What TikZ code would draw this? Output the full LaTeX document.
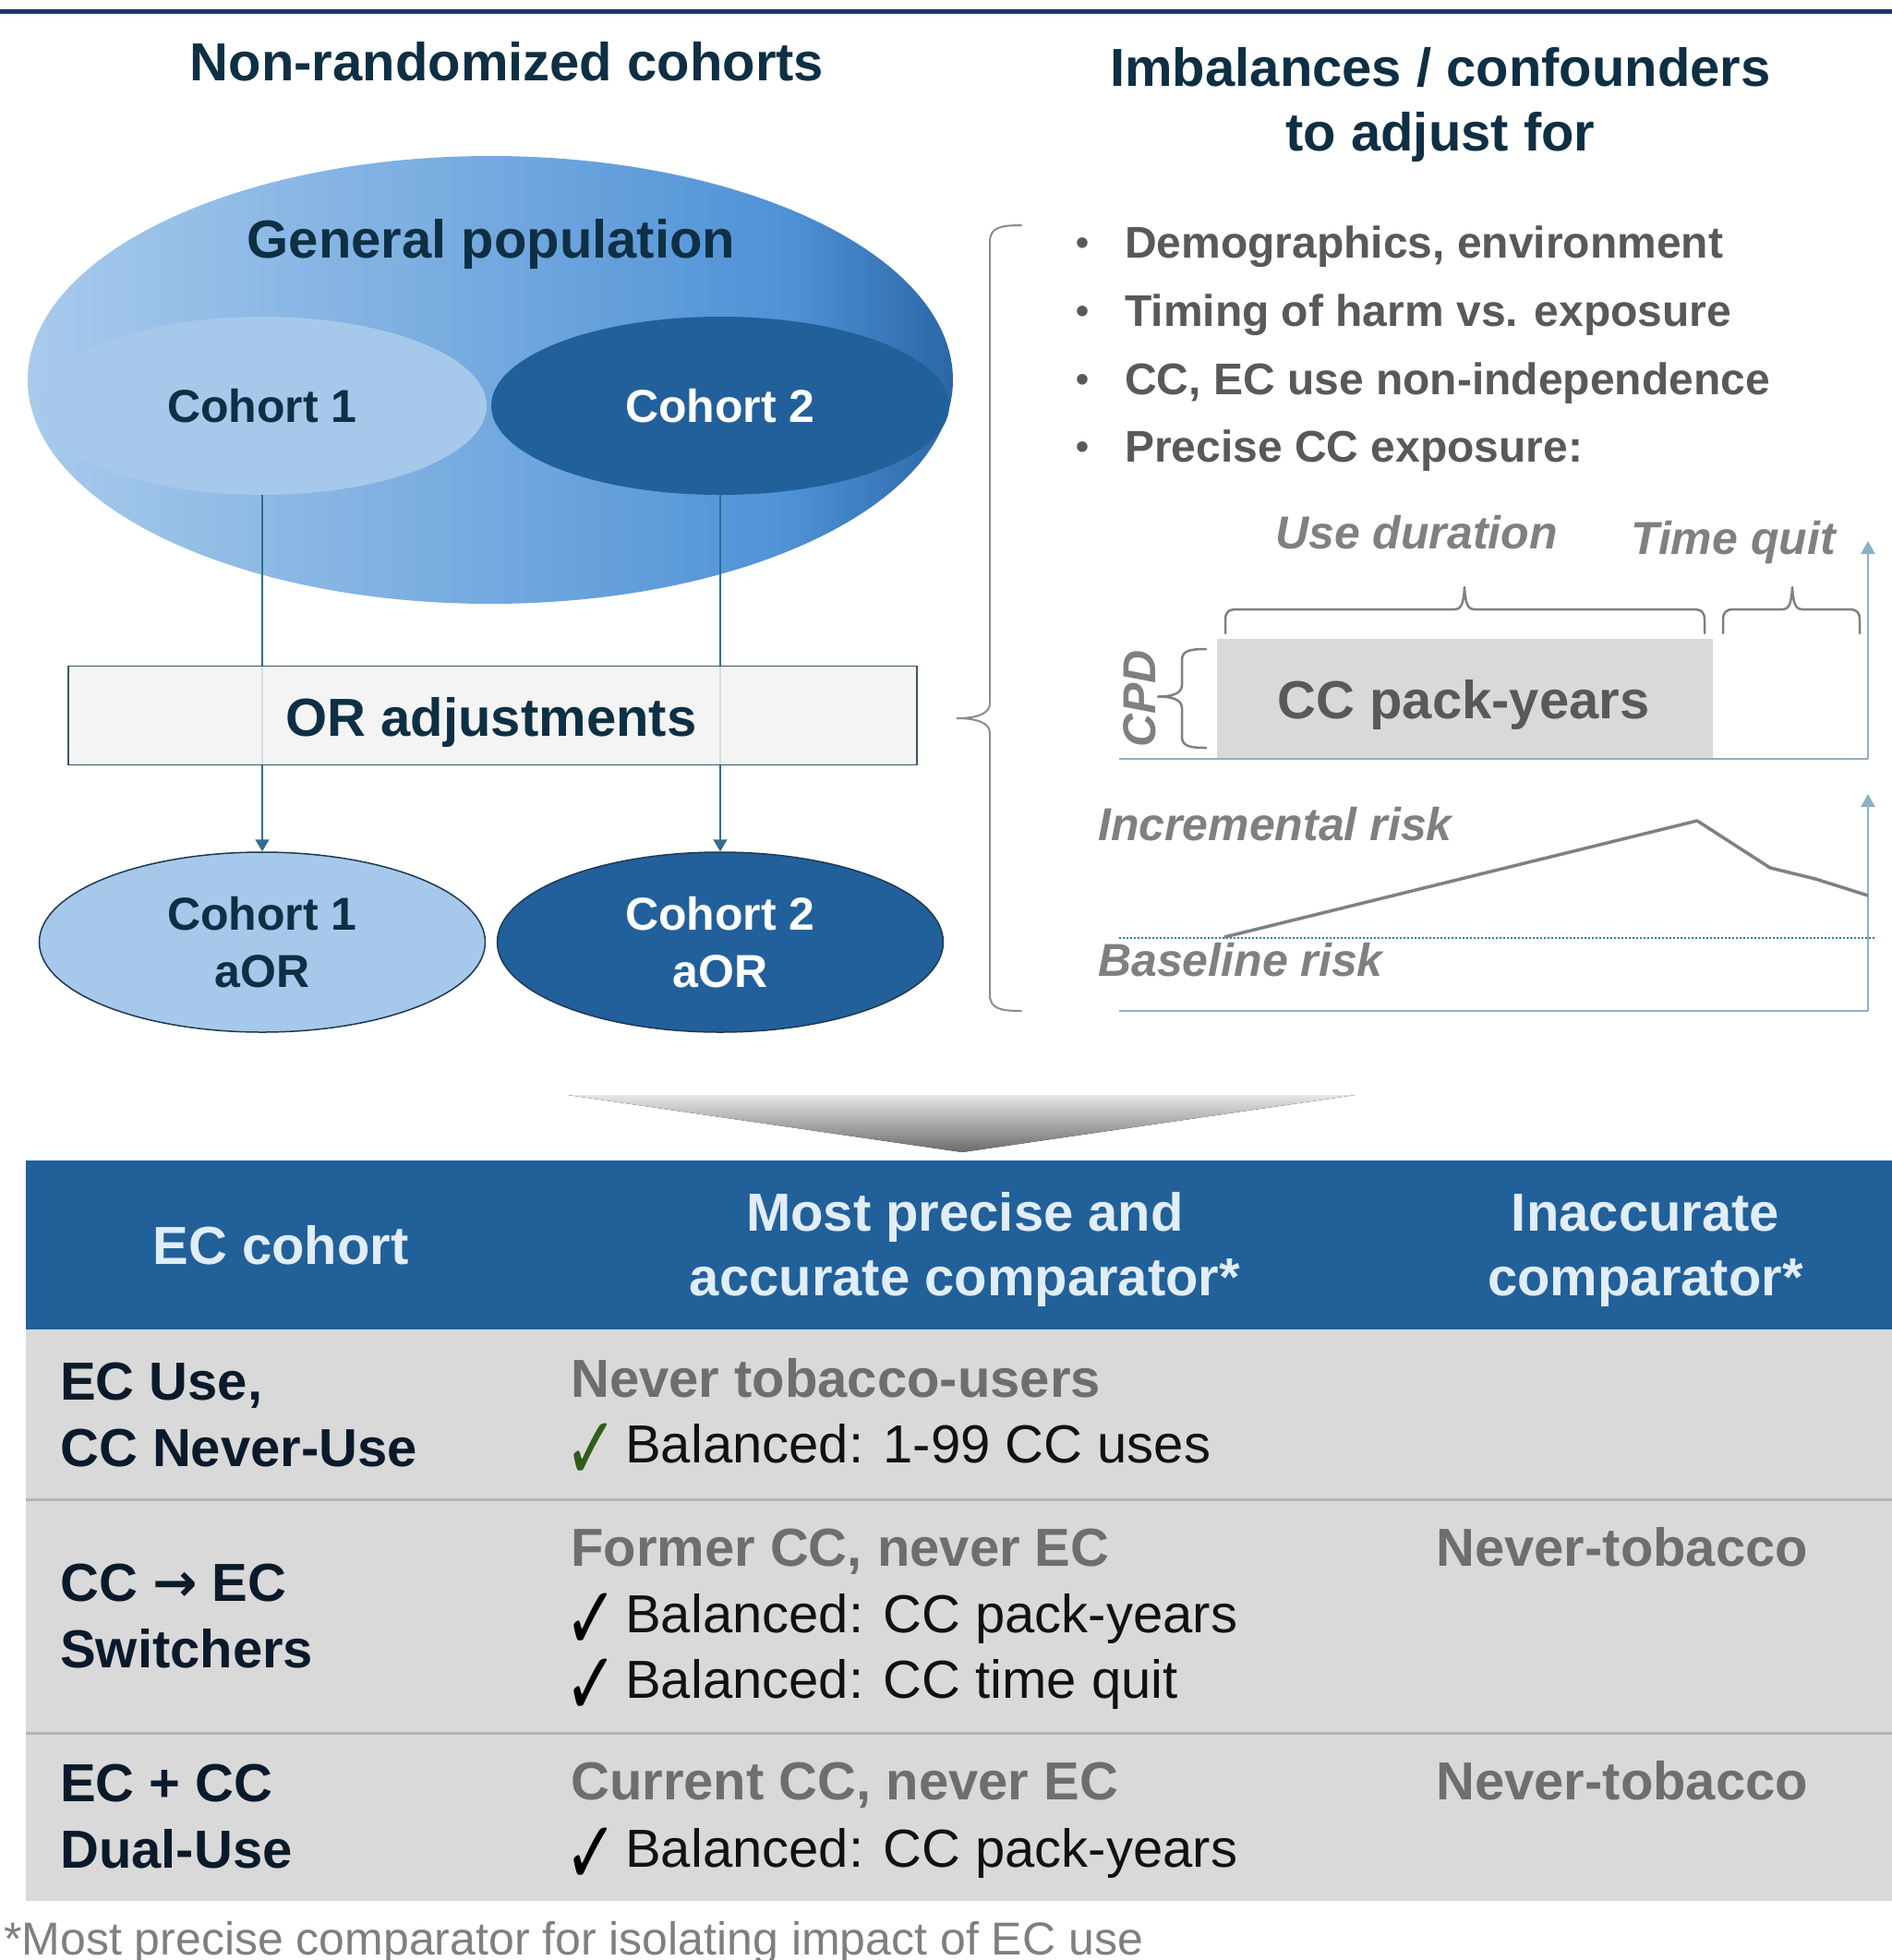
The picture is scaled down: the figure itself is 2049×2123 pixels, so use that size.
\documentclass[tikz,border=0pt]{standalone}
\usepackage{fontspec}
\setmainfont{Liberation Sans}
\newfontfamily\symf{DejaVu Sans}
\usetikzlibrary{shapes.geometric,arrows.meta}
\definecolor{topC}{HTML}{203864}
\definecolor{navyT}{HTML}{0E2F44}
\definecolor{grayT}{HTML}{595959}
\definecolor{grayL}{HTML}{808080}
\definecolor{gpA}{HTML}{A8CAEC}
\definecolor{gpB}{HTML}{78ACE0}
\definecolor{gpC}{HTML}{4F92D7}
\definecolor{gpD}{HTML}{2C66A6}
\definecolor{c1C}{HTML}{A6C8EA}
\definecolor{c2C}{HTML}{22609B}
\definecolor{connC}{HTML}{2F6E8E}
\definecolor{orB}{HTML}{3A566B}
\definecolor{orF}{HTML}{F2F2F2}
\definecolor{elB}{HTML}{1E3A52}
\definecolor{braceC}{HTML}{8C8C8C}
\definecolor{axisC}{HTML}{8DB0C2}
\definecolor{dotC}{HTML}{3C7CA8}
\definecolor{rectC}{HTML}{D9D9D9}
\definecolor{hdrC}{HTML}{22609A}
\definecolor{hdrT}{HTML}{E1EDF8}
\definecolor{rowC}{HTML}{D9D9D9}
\definecolor{sepC}{HTML}{B5B5B5}
\definecolor{col1T}{HTML}{0B1A2B}
\definecolor{col2T}{HTML}{6E6E6E}
\definecolor{balT}{HTML}{111111}
\definecolor{chkG}{HTML}{2E5E1A}
\definecolor{footT}{HTML}{7F7F7F}
\pgfdeclarehorizontalshading{gpshade}{100bp}{color(0bp)=(gpA); color(25bp)=(gpA); color(48bp)=(gpB); color(66bp)=(gpC); color(75bp)=(gpD); color(100bp)=(gpD)}
\newcommand\fsA{\fontsize{58}{70}\selectfont}
\newcommand\fsB{\fontsize{48}{58}\selectfont}
\newcommand\fsC{\fontsize{50}{60}\selectfont}
\newcommand\fsD{\fontsize{50}{62}\selectfont}
\newcommand\fsE{\fontsize{40}{46}\selectfont}
\newcommand\fsK{\fontsize{96}{100}\selectfont}
\newcommand\chkmark{\scalebox{0.72}[1]{✓}}
\begin{document}
\begin{tikzpicture}[x=1pt,y=-1pt,
  ttl/.style={font=\fsA\bfseries, text=navyT, inner sep=0pt},
  blt/.style={font=\fsB\bfseries, text=grayT, inner sep=0pt, anchor=base west},
  bdot/.style={font=\fsE\bfseries, text=grayT, inner sep=0pt, anchor=base},
  ital/.style={font=\fsC\bfseries\itshape, text=grayL, inner sep=0pt},
  conn/.style={draw=connC, line width=2pt, -{Triangle[width=15pt,length=13pt]}},
  axisln/.style={draw=axisC, line width=2.2pt},
  axarr/.style={draw=axisC, line width=2.2pt, -{Triangle[width=15pt,length=14pt]}},
  tbrc/.style={draw=grayL, line width=2.5pt, line cap=round, line join=round},
  bigbrc/.style={draw=braceC, line width=2pt, line cap=round},
  hdrtxt/.style={font=\fsA\bfseries, text=hdrT, inner sep=0pt, anchor=base},
  colA/.style={font=\fsA\bfseries, text=col1T, inner sep=0pt, anchor=base west},
  colB/.style={font=\fsA\bfseries, text=col2T, inner sep=0pt, anchor=base west},
  balx/.style={font=\fsA, text=balT, inner sep=0pt, anchor=base west},
  chk/.style={font=\fsK\symf, inner sep=0pt, anchor=base, text height=44pt, text depth=0pt},
  rowbox/.style={fill=rowC, minimum width=2021pt, inner sep=0pt, anchor=north west},
  sepln/.style={draw=sepC, line width=2.5pt}
]
\useasboundingbox (0,0) rectangle (2049,2123);
% top rule
\coordinate (topL) at (0,12.7);
\coordinate (topR) at (2049,12.7);
\draw[draw=topC, line width=5.5pt] (topL) -- (topR);
% titles
\node[ttl, anchor=base] (tleft) at (549,87) {Non-randomized cohorts};
\node[ttl, anchor=base] (tright1) at (1560,93) {Imbalances / confounders};
\node[ttl, anchor=base] (tright2) at (1560,163) {to adjust for};
% population ellipse
\node[ellipse, shading=gpshade, minimum width=1002pt, minimum height=485pt, inner sep=0pt] (gp) at (531,411.5) {};
\node[ttl, anchor=base] (gpl) at (532,279) {General population};
\node[ellipse, fill=c1C, minimum width=486pt, minimum height=193pt, inner sep=0pt, font=\fsD\bfseries, text=navyT] (c1) at (284,439.5) {Cohort 1};
\node[ellipse, fill=c2C, minimum width=496pt, minimum height=193pt, inner sep=0pt, font=\fsD\bfseries, text=white] (c2) at (780,439.5) {Cohort 2};
% bottom ellipses
\node[ellipse, draw=elB, line width=1.5pt, fill=c1C, minimum width=483pt, minimum height=195pt, inner sep=0pt, font=\fsD\bfseries, text=navyT, align=center] (c1b) at (284,1020.5) {Cohort 1\\aOR};
\node[ellipse, draw=elB, line width=1.5pt, fill=c2C, minimum width=483pt, minimum height=195pt, inner sep=0pt, font=\fsD\bfseries, text=white, align=center] (c2b) at (780,1020.5) {Cohort 2\\aOR};
% connectors
\draw[conn] (c1.south) -- (c1b.north);
\draw[conn] (c2.south) -- (c2b.north);
% OR box
\node[draw=orB, line width=1.5pt, fill=orF, fill opacity=0.85, minimum width=919pt, minimum height=106.6pt, inner sep=0pt] (orb) at (533.5,775) {};
\node[ttl, anchor=base] (orl) at (532,797) {OR adjustments};
% big brace
\draw[bigbrc] (1106,244) .. controls (1082,244) and (1072,247) .. (1072,262) -- (1072,762) .. controls (1072,773) and (1058,778) .. (1036,778) .. controls (1058,778) and (1072,783) .. (1072,794) -- (1072,1077) .. controls (1072,1092) and (1082,1095) .. (1106,1095);
% bullets
\node[bdot] (d1) at (1172,276) {•};
\node[bdot] (d2) at (1172,350) {•};
\node[bdot] (d3) at (1172,424) {•};
\node[bdot] (d4) at (1172,497) {•};
\node[blt] (b1) at (1218,279) {Demographics, environment};
\node[blt] (b2) at (1218,353) {Timing of harm vs. exposure};
\node[blt] (b3) at (1218,427) {CC, EC use non-independence};
\node[blt] (b4) at (1218,500) {Precise CC exposure:};
% timeline
\node[ital, anchor=base] (ud) at (1534,594) {Use duration};
\node[ital, anchor=base] (tq) at (1877,600) {Time quit};
\draw[tbrc] (1327,686) -- (1327,672) .. controls (1327,663) and (1330,660) .. (1340,660) -- (1575,660) .. controls (1582,660) and (1585,655) .. (1586,636) .. controls (1587,655) and (1590,660) .. (1597,660) -- (1833,660) .. controls (1843,660) and (1846,663) .. (1846,672) -- (1846,686);
\draw[tbrc] (1866,686) -- (1866,672) .. controls (1866,663) and (1869,660) .. (1878,660) -- (1930,660) .. controls (1937,660) and (1940,655) .. (1941,636) .. controls (1942,655) and (1945,660) .. (1952,660) -- (2002,660) .. controls (2011,660) and (2014,663) .. (2014,672) -- (2014,686);
\node[fill=rectC, minimum width=537pt, minimum height=129pt, inner sep=0pt] (py) at (1586.5,756.5) {};
\node[font=\fsA\bfseries, text=grayT, inner sep=0pt, anchor=base] (pyl) at (1585,778) {CC pack-years};
\node[ital, rotate=90, anchor=base] (cpd) at (1251,757) {CPD};
\draw[tbrc] (1306,703) .. controls (1288,703) and (1280,705) .. (1280,715) -- (1280,742) .. controls (1280,750) and (1272,754.5) .. (1254,754.5) .. controls (1272,754.5) and (1280,759) .. (1280,767) -- (1280,798) .. controls (1280,808) and (1288,810) .. (1306,810);
\coordinate (ax1L) at (1212,822);
\coordinate (ax1R) at (2023,822);
\coordinate (ax1T) at (2023,586);
\draw[axisln] (ax1L) -- (ax1R);
\draw[axarr] (ax1R) -- (ax1T);
\coordinate (ax2L) at (1212,1095);
\coordinate (ax2R) at (2023,1095);
\coordinate (ax2T) at (2023,860);
\draw[axisln] (ax2L) -- (ax2R);
\draw[axarr] (ax2R) -- (ax2T);
\coordinate (dtL) at (1212,1016);
\coordinate (dtR) at (2031,1016);
\draw[draw=dotC, line width=2pt, dotted] (dtL) -- (dtR);
\coordinate (rk0) at (1326,1015);
\coordinate (rk1) at (1838,889);
\coordinate (rk2) at (1917,940);
\coordinate (rk3) at (1966,952);
\coordinate (rk4) at (2023,970);
\draw[draw=grayL, line width=3.5pt, line join=round] (rk0) -- (rk1) -- (rk2) -- (rk3) -- (rk4);
\node[ital, anchor=base west] (inc) at (1189,910) {Incremental risk};
\node[ital, anchor=base west] (bas) at (1189,1057) {Baseline risk};
% chevron
\fill[top color=black!10, bottom color=black!58] (615,1186) -- (1468,1186) -- (1042,1248) -- cycle;
% table
\node[fill=hdrC, minimum width=2021pt, minimum height=183.5pt, inner sep=0pt, anchor=north west] (hdr) at (28,1256.5) {};
\node[rowbox, minimum height=184pt] (r1) at (28,1440) {};
\node[rowbox, minimum height=253pt] (r2) at (28,1624) {};
\node[rowbox, minimum height=182pt] (r3) at (28,1877) {};
\draw[sepln] (r1.south west) -- (r1.south east);
\draw[sepln] (r2.south west) -- (r2.south east);
\node[hdrtxt] (h1) at (304,1369) {EC cohort};
\node[hdrtxt] (h2a) at (1045,1333) {Most precise and};
\node[hdrtxt] (h2b) at (1045,1403) {accurate comparator*};
\node[hdrtxt] (h3a) at (1782,1333) {Inaccurate};
\node[hdrtxt] (h3b) at (1782,1403) {comparator*};
% row 1
\node[colA] (r1a1) at (65,1516) {EC Use,};
\node[colA] (r1a2) at (65,1588) {CC Never-Use};
\node[colB] (r1b1) at (618,1513) {Never tobacco-users};
\node[chk, text=chkG] (r1k) at (640,1602) {\chkmark};
\node[balx] (r1b2) at (677,1584) {Balanced: 1-99 CC uses};
% row 2
\node[colA] (r2a1) at (65,1734) {CC {\symf\bfseries →} EC};
\node[colA] (r2a2) at (65,1806) {Switchers};
\node[colB] (r2b1) at (618,1696) {Former CC, never EC};
\node[chk, text=black] (r2k1) at (640,1786) {\chkmark};
\node[balx] (r2b2) at (677,1768) {Balanced: CC pack-years};
\node[chk, text=black] (r2k2) at (640,1857) {\chkmark};
\node[balx] (r2b3) at (677,1839) {Balanced: CC time quit};
\node[colB] (r2c) at (1555,1696) {Never-tobacco};
% row 3
\node[colA] (r3a1) at (65,1951) {EC + CC};
\node[colA] (r3a2) at (65,2023) {Dual-Use};
\node[colB] (r3b1) at (618,1949) {Current CC, never EC};
\node[chk, text=black] (r3k) at (640,2040) {\chkmark};
\node[balx] (r3b2) at (677,2022) {Balanced: CC pack-years};
\node[colB] (r3c) at (1555,1949) {Never-tobacco};
% footnote
\node[font=\fontsize{50}{60}\selectfont, text=footT, inner sep=0pt, anchor=base west] (foot) at (4,2117) {*Most precise comparator for isolating impact of EC use};
\end{tikzpicture}
\end{document}
